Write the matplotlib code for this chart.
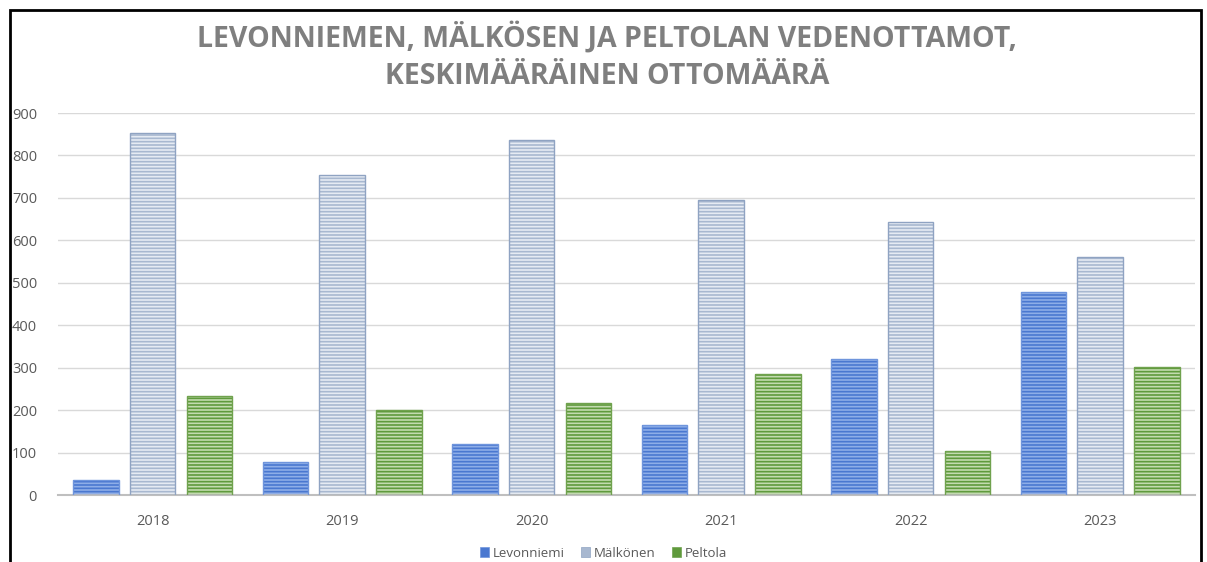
import matplotlib.pyplot as plt
import numpy as np
from matplotlib.patches import Rectangle

years = ["2018", "2019", "2020", "2021", "2022", "2023"]
levonniemi = [35, 78, 120, 165, 320, 478]
malkonen = [853, 754, 836, 695, 643, 561]
peltola = [233, 200, 217, 285, 104, 302]

plt.rcParams['font.family'] = ['Open Sans', 'DejaVu Sans']
plt.rcParams['hatch.linewidth'] = 1.2

fig = plt.figure(figsize=(12.07, 5.62), dpi=100)
ax = fig.add_axes([0.048, 0.1192, 0.942, 0.6797])

x = np.arange(len(years))
w = 0.24
step = 0.30
series = [
    ("Levonniemi", levonniemi, "#8eaee8", "#4a78d0", "#6f95dc"),
    ("Mälkönen", malkonen, "#e6ebf3", "#a8b8d0", "#8fa3c2"),
    ("Peltola", peltola, "#c3dbb0", "#5f9a3c", "#70a24e"),
]
handles = []
for i, (name, vals, face, hatchc, edge) in enumerate(series):
    pos = x + (i - 1) * step
    ax.bar(pos, vals, w, color=face, edgecolor=hatchc, hatch="-----", linewidth=0, zorder=2)
    ax.bar(pos, vals, w, color="none", edgecolor=edge, linewidth=1.0, zorder=3)
    handles.append(Rectangle((0, 0), 1, 1, facecolor=hatchc, edgecolor=edge, linewidth=0.5))

ax.set_xlim(-0.5, len(years) - 0.5)
ax.set_ylim(0, 900)
ax.set_yticks(range(0, 901, 100))
ax.set_xticks(x)
ax.set_xticklabels(years)
ax.grid(axis="y", color="#d9d9d9", linewidth=1, zorder=0)
ax.set_axisbelow(True)
for s in ["top", "right", "left"]:
    ax.spines[s].set_visible(False)
ax.spines["bottom"].set_color("#bfbfbf")
ax.spines["bottom"].set_linewidth(1.5)
ax.tick_params(axis="both", length=0, colors="#595959", labelsize=10.5)
ax.tick_params(axis="y", pad=15)
ax.tick_params(axis="x", pad=14)

# title, spaced out a bit like the original
title_lines = ["LEVONNIEMEN, MÄLKÖSEN JA PELTOLAN VEDENOTTAMOT,", "KESKIMÄÄRÄINEN OTTOMÄÄRÄ"]
fig.text(0.503, 0.962, "\n".join(title_lines),
         ha="center", va="top", fontsize=20.5, fontweight="bold", color="#7f7f7f", linespacing=1.38)

fig.legend(handles, [s[0] for s in series], loc="center", bbox_to_anchor=(0.5, 0.016),
           ncol=3, frameon=False, fontsize=9.5, handlelength=0.7, handleheight=0.7,
           handletextpad=0.3, columnspacing=1.2, labelcolor="#595959")

fig.add_artist(Rectangle((10 / 1207, -0.1), (1201 - 10) / 1207, 1.1 - 10 / 562,
                         transform=fig.transFigure, fill=False, edgecolor="black", linewidth=2))

fig.savefig("out.png", dpi=100)
